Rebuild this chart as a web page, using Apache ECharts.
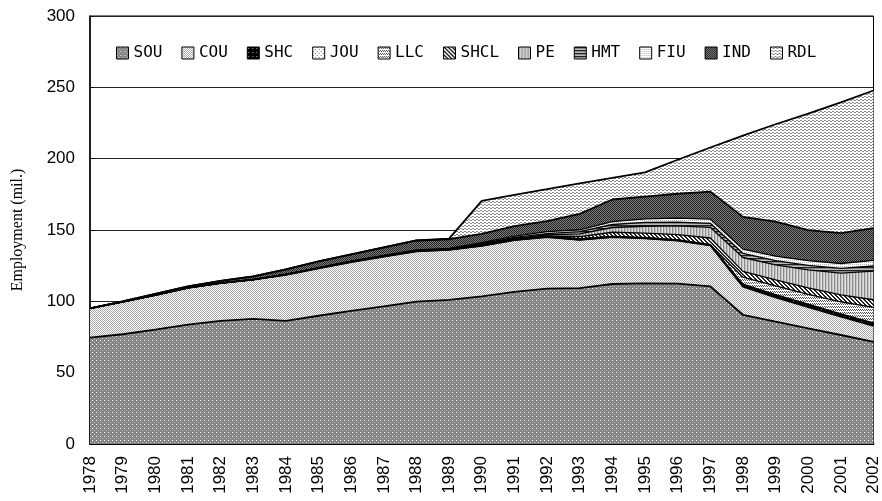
<!DOCTYPE html>
<html><head><meta charset="utf-8">
<script src="https://cdn.jsdelivr.net/npm/echarts@6/dist/echarts.min.js"></script>
<style>html,body{margin:0;padding:0;background:#fff}#c{width:882px;height:501px}</style>
</head><body><div id="c"></div>
<script>
const years = ['1978','1979','1980','1981','1982','1983','1984','1985','1986','1987','1988','1989','1990','1991','1992','1993','1994','1995','1996','1997','1998','1999','2000','2001','2002'];
const SOU = [74.51,76.93,80.19,83.72,86.30,87.71,86.37,89.90,93.33,96.54,99.84,101.08,103.46,106.64,108.89,109.20,112.14,112.61,112.44,110.44,90.58,85.72,81.02,76.40,71.63];
const COU = [20.48,22.74,24.25,25.68,26.51,27.44,32.16,33.24,34.21,34.88,35.27,35.02,35.49,36.28,36.21,33.93,32.85,31.47,30.16,28.83,19.63,17.12,14.99,12.91,11.22];
const SHC = [0,0,0,0,0,0,0,0,0,0,0,0,0,0,0,0,0,0,0,0,1.36,1.44,1.55,1.53,1.61];
const JOU = [0,0,0,0,0,0,0.37,0.38,0.45,0.47,0.50,0.48,0.96,0.49,0.56,0.66,0.52,0.53,0.49,0.43,0.48,0.46,0.42,0.45,0.45];
const LLC = [0,0,0,0,0,0,0,0,0,0,0,0,0,0,0,0,0,0,0,0,4.84,6.03,6.87,8.41,10.83];
const SHCL = [0,0,0,0,0,0,0,0,0,0,0,0,0,0,0,1.64,2.92,3.17,3.63,4.68,4.10,4.20,4.57,4.83,5.38];
const PE = [0,0,0,0,0,0,0,0,0,0,0,0,0.57,0.68,0.98,1.86,3.32,4.85,6.20,7.50,9.73,10.53,12.68,15.27,19.99];
const HMT = [0,0,0,0,0,0,0,0,0,0,0,0,0.04,0.69,0.83,1.55,2.11,2.72,2.65,2.81,2.94,3.06,3.10,3.26,3.67];
const FIU = [0,0,0,0,0,0,0.06,0.06,0.11,0.25,0.45,0.47,0.62,0.96,1.38,1.33,1.95,2.41,2.75,3.00,2.93,3.12,3.32,3.45,3.91];
const IND = [0.15,0.32,0.81,1.13,1.47,2.31,3.39,4.50,4.83,5.69,6.59,6.48,6.14,6.92,7.40,11.16,15.57,15.60,17.09,19.19,22.59,24.14,21.36,21.31,22.69];
const RDL = [0,0,0,0,0,0,0,0,0,0,0,0.4,23.13,21.99,22.36,21.29,15.15,17.04,23.81,30.93,56.98,68.30,81.63,91.58,96.42];
const yTicks = [0,50,100,150,200,250,300];

function pat(w, h, bg, px) {
  const c = document.createElement('canvas');
  c.width = w; c.height = h;
  const g = c.getContext('2d');
  g.fillStyle = bg; g.fillRect(0, 0, w, h);
  px.forEach(p => { g.fillStyle = p[2]; g.fillRect(p[0], p[1], 1, 1); });
  return { image: c, repeat: 'repeat' };
}
const W = '#ffffff';
const patterns = {
  SOU: pat(4,4,'#858585',[[0,0,W],[2,2,'#c8c8c8']]),
  COU: pat(2,2,'#ffffff',[[0,0,'#a8a8a8'],[1,1,'#a8a8a8']]),
  SHC: pat(4,4,'#000000',[[1,1,'#aaaaaa']]),
  JOU: pat(4,4,'#ffffff',[[0,0,'#777'],[2,2,'#777']]),
  LLC: pat(4,3,'#ffffff',[[0,0,'#555'],[2,0,'#555'],[1,1,'#555'],[3,1,'#555']]),
  SHCL: pat(4,4,'#ffffff',[[0,0,'#222'],[1,0,'#222'],[1,1,'#222'],[2,1,'#222'],[2,2,'#222'],[3,2,'#222'],[3,3,'#222'],[0,3,'#222']]),
  PE: pat(3,1,'#dddddd',[[0,0,'#8c8c8c'],[1,0,'#c4c4c4']]),
  HMT: pat(1,3,'#888888',[[0,0,'#222'],[0,2,'#bbb']]),
  FIU: pat(2,2,'#ffffff',[[0,0,'#b4b4b4']]),
  IND: pat(2,2,'#7a7a7a',[[0,0,'#262626'],[1,1,'#262626']]),
  RDL: pat(4,3,'#ffffff',[[0,0,'#8a8a8a'],[1,0,'#8a8a8a'],[2,1,'#8a8a8a'],[3,1,'#8a8a8a']])
};
const names = ['SOU','COU','SHC','JOU','LLC','SHCL','PE','HMT','FIU','IND','RDL'];
const dataMap = {SOU,COU,SHC,JOU,LLC,SHCL,PE,HMT,FIU,IND,RDL};

const series = names.map(n => ({
  name: n,
  type: 'line',
  stack: 'total',
  data: dataMap[n],
  showSymbol: false,
  symbol: 'none',
  lineStyle: { color: '#000', width: (n==='SOU'||n==='COU'||n==='IND'||n==='RDL') ? 1.8 : 1.3 },
  itemStyle: { color: patterns[n] },
  areaStyle: { color: patterns[n], opacity: 1 },
  emphasis: { disabled: true },
  animation: false
}));

const chart = echarts.init(document.getElementById('c'), null, { renderer: 'canvas' });
chart.setOption({
  animation: false,
  backgroundColor: '#ffffff',
  grid: { left: 90, right: 6, top: 16, bottom: 57, show: true, borderColor: '#000', borderWidth: 1, backgroundColor: 'transparent' },
  legend: {
    left: 116, top: 45, padding: 0,
    itemWidth: 12, itemHeight: 12, itemGap: 19,
    icon: 'rect',
    selectedMode: false,
    textStyle: { fontFamily: 'DejaVu Sans Mono', fontSize: 16, color: '#000' },
    data: names.map(n => ({ name: n, icon: 'rect', itemStyle: { color: patterns[n], borderColor: '#000', borderWidth: 1 } }))
  },
  xAxis: {
    type: 'category',
    data: years,
    boundaryGap: false,
    axisLine: { lineStyle: { color: '#000', width: 2 } },
    axisTick: { inside: true, length: 5, lineStyle: { color: '#000' } },
    axisLabel: { rotate: 90, interval: 0, color: '#000', fontFamily: 'Liberation Sans, Arial', fontSize: 17, margin: 12 },
    splitLine: { show: false }
  },
  yAxis: {
    type: 'value',
    min: 0, max: 300, interval: 50,
    name: 'Employment (mil.)',
    nameLocation: 'middle',
    nameGap: 64,
    nameRotate: 90,
    nameTextStyle: { fontFamily: 'Liberation Serif, Times New Roman', fontSize: 16, color: '#000' },
    axisLine: { show: true, lineStyle: { color: '#000', width: 1.5 } },
    axisTick: { show: true, inside: true, length: 4, lineStyle: { color: '#000' } },
    axisLabel: { color: '#000', fontFamily: 'Liberation Sans, Arial', fontSize: 17, margin: 15,
      formatter: v => yTicks.includes(v) ? String(v) : '' },
    splitLine: { show: true, lineStyle: { color: '#222', width: 1.2 } }
  },
  series: series
});
</script></body></html>
